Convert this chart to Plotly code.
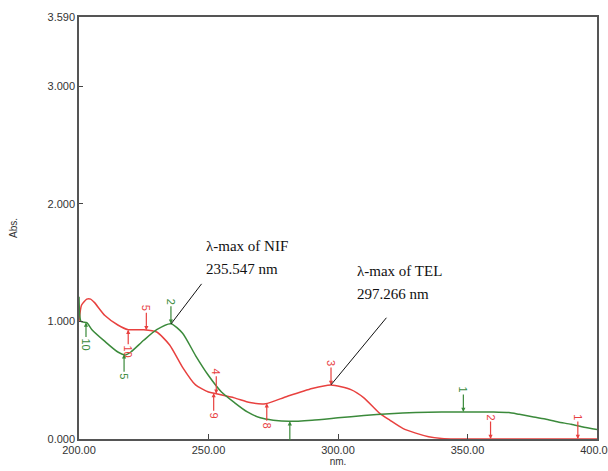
import numpy as np
import plotly.graph_objects as go

# ---- data ----
nif_nm = [200.0, 200.8, 203, 205, 210, 215, 218, 220, 225, 230, 235.5, 240, 245, 250, 255,
          260, 265, 270, 275, 281, 290, 300, 310, 320, 330, 340, 350, 360, 366, 370,
          375, 380, 385, 390, 395, 400]
nif_abs = [1.21, 1.0, 0.99, 0.93, 0.83, 0.74, 0.715, 0.74, 0.84, 0.93, 0.98, 0.90, 0.71, 0.54, 0.40,
           0.31, 0.23, 0.18, 0.16, 0.15, 0.16, 0.18, 0.20, 0.215, 0.225, 0.23, 0.23, 0.23, 0.225, 0.21,
           0.19, 0.17, 0.145, 0.125, 0.10, 0.08]

tel_nm = [200.0, 201, 203, 204.5, 206, 210, 215, 219, 225, 230, 235, 240, 245, 250, 253,
          260, 266, 272, 280, 290, 297.3, 305, 310, 316, 320, 325, 330, 335, 340, 345, 360, 380, 400]
tel_abs = [1.0, 1.14, 1.19, 1.19, 1.16, 1.05, 0.97, 0.93, 0.93, 0.91, 0.80, 0.61, 0.46, 0.40, 0.385,
           0.35, 0.31, 0.30, 0.36, 0.43, 0.46, 0.42, 0.35, 0.22, 0.16, 0.09, 0.05, 0.02, 0.005, 0.0, 0.0, 0.0, 0.0]

# peak / valley pick markers
tel_peaks = [(226, "5"), (253, "4"), (297.3, "3"), (358.9, "2"), (392.6, "1")]
tel_valleys = [(219, "10"), (252, "9"), (272.5, "8")]
nif_peaks = [(235.5, "2"), (348.4, "1")]
nif_valleys = [(202.7, "10"), (217.4, "5"), (281.4, "")]

x_ticks = [200, 250, 300, 350, 400]
x_tick_text = ["200.00", "250.00", "300.00", "350.00", "400.00"]
y_ticks = [0, 1, 2, 3, 3.59]
y_tick_text = ["0.000", "1.000", "2.000", "3.000", "3.590"]

RED = "#e8413f"
GREEN = "#3b8a3b"

fig = go.Figure()
fig.add_trace(go.Scatter(x=tel_nm, y=tel_abs, mode="lines", line=dict(color=RED, width=1.5, shape="spline", smoothing=0.6),
                         showlegend=False, hoverinfo="skip", cliponaxis=False))
fig.add_trace(go.Scatter(x=nif_nm, y=nif_abs, mode="lines", line=dict(color=GREEN, width=1.5, shape="spline", smoothing=0.6),
                         showlegend=False, hoverinfo="skip"))

annotations = []


def pick(x, label, series_x, series_y, color, up):
    yv = float(np.interp(x, series_x, series_y))
    annotations.append(dict(x=x, y=yv, xref="x", yref="y", text=label, showarrow=True,
                            arrowhead=2, arrowsize=0.7, arrowwidth=1.2, arrowcolor=color,
                            ax=0, ay=(22 if up else -22), textangle=90,
                            font=dict(size=11, color=color, family="Liberation Sans")))


for x, l in tel_peaks:
    pick(x, l, tel_nm, tel_abs, RED, False)
for x, l in tel_valleys:
    pick(x, l, tel_nm, tel_abs, RED, True)
for x, l in nif_peaks:
    pick(x, l, nif_nm, nif_abs, GREEN, False)
for x, l in nif_valleys:
    pick(x, l if l else " ", nif_nm, nif_abs, GREEN, True)

# lambda-max call-outs
nif_pk = 235.547
tel_pk = 297.266
annotations.append(dict(x=nif_pk, y=float(np.interp(nif_pk, nif_nm, nif_abs)), xref="x", yref="y", text=" ",
                        showarrow=True, arrowhead=0, arrowwidth=1, arrowcolor="#111", ax=32, ay=-42,
                        font=dict(size=1)))
annotations.append(dict(x=tel_pk, y=float(np.interp(tel_pk, tel_nm, tel_abs)), xref="x", yref="y", text=" ",
                        showarrow=True, arrowhead=0, arrowwidth=1, arrowcolor="#111", ax=57, ay=-69,
                        font=dict(size=1)))
serif = dict(family="Liberation Serif", size=15, color="#111")
annotations += [
    dict(x=248.4, y=1.64, xref="x", yref="y", text="λ-max of NIF", showarrow=False, xanchor="left", yanchor="middle", font=serif),
    dict(x=248.4, y=1.445, xref="x", yref="y", text="235.547 nm", showarrow=False, xanchor="left", yanchor="middle", font=serif),
    dict(x=306.6, y=1.43, xref="x", yref="y", text="λ-max of TEL", showarrow=False, xanchor="left", yanchor="middle", font=serif),
    dict(x=306.6, y=1.235, xref="x", yref="y", text="297.266 nm", showarrow=False, xanchor="left", yanchor="middle", font=serif),
]

axis_font = dict(family="Liberation Sans", size=11, color="#333")
fig.update_layout(
    width=608, height=471,
    margin=dict(l=79, r=11, t=17, b=32),
    paper_bgcolor="white", plot_bgcolor="white",
    annotations=annotations,
    xaxis=dict(range=[200, 400], tickvals=x_ticks, ticktext=x_tick_text, ticks="inside", ticklen=5,
               tickcolor="#444", showgrid=False, zeroline=False, showline=True, linecolor="#555",
               linewidth=1.5, mirror=True, tickfont=axis_font, automargin=False, ticklabeloverflow="allow",
               title=dict(text="nm.", font=dict(family="Liberation Sans", size=10, color="#333"), standoff=1)),
    yaxis=dict(range=[0, 3.59], tickvals=y_ticks, ticktext=y_tick_text, ticks="inside", ticklen=4,
               tickcolor="#444", showgrid=False, zeroline=False, showline=True, linecolor="#555",
               linewidth=1.5, mirror=True, tickfont=axis_font, automargin=False, ticklabeloverflow="allow",
               title=dict(text="Abs.", font=dict(family="Liberation Sans", size=10, color="#333"), standoff=28)),
)

fig.write_html("out.html", config={"displayModeBar": False},
               post_script="document.body.style.margin='0';document.body.style.overflow='hidden';")
